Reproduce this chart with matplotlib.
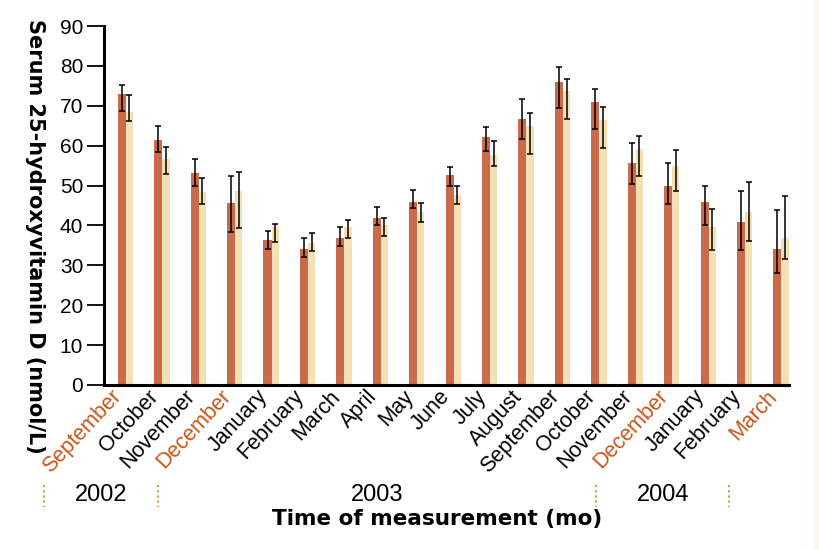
import numpy as np
import matplotlib
matplotlib.use('Agg')
import matplotlib.pyplot as plt
from matplotlib.patches import Rectangle

# 读图得到的数据 (nmol/L)
months = ['September', 'October', 'November', 'December', 'January', 'February',
          'March', 'April', 'May', 'June', 'July', 'August', 'September',
          'October', 'November', 'December', 'January', 'February', 'March']
highlight = [0, 3, 15, 18]

dark_val = [72.9, 61.4, 53.1, 45.6, 36.3, 34.2, 36.9, 41.9, 45.8, 52.6,
            62.2, 66.8, 76.0, 71.0, 55.7, 50.0, 45.8, 40.9, 34.1]
dark_lo = [68.8, 58.3, 50.0, 38.3, 34.0, 32.2, 34.9, 40.1, 44.3, 50.0,
           58.7, 61.7, 69.5, 64.1, 50.5, 45.4, 40.0, 33.8, 28.0]
dark_hi = [75.2, 64.9, 56.6, 52.4, 38.7, 36.8, 39.7, 44.7, 48.9, 54.7,
           64.8, 71.8, 79.6, 74.2, 60.7, 55.6, 50.0, 48.7, 43.9]

light_val = [68.5, 56.6, 48.4, 48.7, 39.7, 35.5, 39.7, 40.1, 43.4, 47.6,
             57.6, 64.9, 73.8, 66.4, 59.1, 54.9, 39.7, 43.3, 36.8]
light_lo = [66.2, 53.0, 45.4, 39.3, 35.8, 33.5, 36.8, 37.3, 40.9, 45.4,
            54.9, 57.9, 66.7, 59.5, 52.4, 48.7, 33.9, 36.2, 31.6]
light_hi = [72.8, 59.6, 52.0, 53.3, 40.4, 38.2, 41.4, 41.9, 45.7, 49.9,
            61.2, 68.1, 76.8, 69.6, 62.4, 58.9, 44.1, 51.0, 47.5]

years = ['2002', '2003', '2004']

dark_color = '#C96A4B'
light_color = '#F5E0B5'
orange = '#C8561C'
dot_color = '#D49A3A'

plt.rcParams['font.family'] = ['Liberation Sans', 'DejaVu Sans']

fig = plt.figure(figsize=(8.2, 5.5), dpi=100)
ax = fig.add_axes([0.1268, 0.30, 0.835, 0.6527])

x = np.arange(len(months))
w1, w2 = 0.22, 0.20
dv, lv = np.array(dark_val), np.array(light_val)
ax.bar(x, dv, width=w1, align='edge', color=dark_color, zorder=2)
ax.bar(x + w1, lv, width=w2, align='edge', color=light_color, zorder=2)

ekw = dict(fmt='none', ecolor='black', elinewidth=1.1, capsize=2, capthick=1.1, zorder=3)
ax.errorbar(x + w1 / 2, dv, yerr=[dv - np.array(dark_lo), np.array(dark_hi) - dv], **ekw)
ax.errorbar(x + w1 + w2 / 2, lv, yerr=[lv - np.array(light_lo), np.array(light_hi) - lv], **ekw)

ax.set_ylim(0, 90)
ax.set_xlim(-0.38, 18.42)
ax.set_yticks(np.arange(0, 91, 10))
ax.tick_params(axis='y', length=12, width=1.3, labelsize=15, pad=3)
ax.tick_params(axis='x', length=0, pad=6)
ax.set_xticks(x + 0.02)
ax.set_xticklabels(months, rotation=47, ha='right', va='center',
                   rotation_mode='anchor', fontsize=15.5)
for i, lab in enumerate(ax.get_xticklabels()):
    if i in highlight:
        lab.set_color(orange)

for s in ['top', 'right']:
    ax.spines[s].set_visible(False)
for s in ['left', 'bottom']:
    ax.spines[s].set_linewidth(2.2)

# 纵轴标题, 从上往下读
fig.text(35 / 820, 1 - 236 / 550, 'Serum 25-hydroxyvitamin D (nmol/L)', family='DejaVu Sans',
         fontweight='bold', fontsize=15, rotation=270, ha='center', va='center')

# 年份与分隔点线
for xp in [44, 158, 596, 729]:
    fig.add_artist(plt.Line2D([xp / 820, xp / 820], [1 - 485 / 550, 1 - 507 / 550],
                              color=dot_color, lw=1.5, linestyle=(0, (1, 1.5))))
for xp, yr in zip([101, 377, 663], years):
    fig.text(xp / 820, 1 - 495 / 550, yr, fontsize=17, ha='center', va='center')
fig.text(437 / 820, 1 - 519 / 550, 'Time of measurement (mo)', family='DejaVu Sans',
         fontweight='bold', fontsize=15.5, ha='center', va='center')

fig.add_artist(Rectangle((813 / 820, 0), 7 / 820, 1, transform=fig.transFigure,
                         color='#FDF8EE', lw=0))

fig.savefig('out.png', dpi=100)
